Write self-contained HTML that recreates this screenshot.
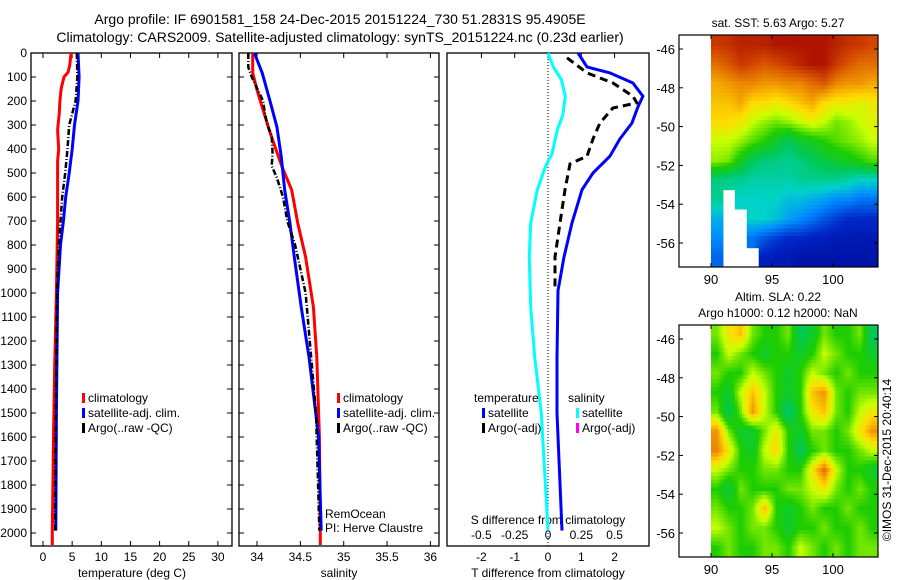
<!DOCTYPE html>
<html><head><meta charset="utf-8"><style>
body{margin:0;background:#fff;}
svg{display:block;font-family:"Liberation Sans",sans-serif;}
</style></head><body>
<svg id="s" width="900" height="580" viewBox="0 0 900 580">
<text x="340" y="24" font-size="14" text-anchor="middle">Argo profile: IF 6901581_158 24-Dec-2015 20151224_730 51.2831S 95.4905E</text>
<text x="340" y="42" font-size="14" text-anchor="middle">Climatology: CARS2009. Satellite-adjusted climatology: synTS_20151224.nc (0.23d earlier)</text>
</svg>
<script>
const depthTicks=[0,100,200,300,400,500,600,700,800,900,1000,1100,1200,1300,1400,1500,1600,1700,1800,1900,2000];
const tTicks=[0,5,10,15,20,25,30];
const sTicks=[34,34.5,35,35.5,36];
const dtTicks=[-2,-1,0,1,2];
const dsTicks=[-0.5,-0.25,0,0.25,0.5];
const dsTickLabels=["-0.5","-0.25","0","0.25","0.5"];
// temperature
const tClimD=[0,50,80,100,130,150,200,250,320,400,450,700,1000,1300,1600,2000,2050];
const tClimV=[4.8,4.6,4.3,3.6,3.3,3.1,2.9,2.8,2.5,2.7,2.5,2.5,2.3,2.0,1.8,1.6,1.6];
const tSatD=[0,100,200,300,400,500,600,700,800,1000,1500,1990];
const tSatV=[6.0,6.2,6.0,5.4,5.0,4.5,3.9,3.5,3.0,2.5,2.3,2.2];
const tArgoD=[0,100,200,300,400,500,600,700,800,1000,1500,1990];
const tArgoV=[5.8,5.9,5.6,4.5,4.2,3.8,3.3,3.0,2.7,2.4,2.2,2.1];
// salinity
const sClimD=[0,83,154,225,308,362,475,571,708,850,1058,1267,1600,2000,2050];
const sClimV=[33.95,33.95,34.0,34.06,34.13,34.18,34.29,34.40,34.47,34.56,34.65,34.69,34.72,34.73,34.73];
const sSatD=[0,83,200,308,433,571,708,850,1058,1267,1600,1990];
const sSatV=[33.97,34.06,34.15,34.23,34.28,34.32,34.38,34.43,34.51,34.60,34.71,34.74];
const sArgoD=[0,60,100,200,250,300,350,420,470,520,600,700,800,900,1000,1500,1990];
const sArgoV=[33.9,33.9,33.94,34.07,34.09,34.12,34.17,34.18,34.17,34.23,34.30,34.35,34.44,34.50,34.56,34.68,34.72];
// differences
const dtSatD=[0,58,83,125,180,225,292,358,430,500,570,708,850,990,1267,1500,1990];
const dtSatV=[0.9,1.17,1.86,2.55,2.85,2.7,2.52,2.16,1.86,1.35,1.02,0.72,0.48,0.3,0.27,0.27,0.42];
const dtArgoD=[20,83,125,180,208,229,292,358,430,462,570,708,850,975];
const dtArgoV=[0.57,1.17,1.95,2.55,2.67,1.95,1.56,1.35,1.17,0.66,0.51,0.36,0.21,0.21];
const dsSatD=[0,58,110,180,260,320,420,475,570,708,850,1058,1267,1500,1990];
const dsSatV=[0,0.04,0.1,0.13,0.11,0.07,0.03,-0.02,-0.08,-0.13,-0.14,-0.13,-0.1,-0.05,0];
// maps
const lonTicks=[90,95,100];
const latTicks=[-46,-48,-50,-52,-54,-56];
const sstGrid=[
[.92,.93,.95,.95,.95,.97,.97,.97,.97,.97,.95,.93,.92,.90],
[.85,.88,.92,.90,.88,.90,.92,.95,.97,.97,.92,.88,.85,.85],
[.78,.80,.82,.82,.80,.80,.82,.82,.85,.88,.82,.80,.80,.78],
[.75,.75,.78,.72,.72,.70,.72,.75,.78,.72,.70,.70,.68,.70],
[.72,.72,.70,.65,.62,.60,.62,.65,.68,.65,.60,.62,.65,.68],
[.65,.65,.62,.58,.55,.50,.45,.50,.52,.55,.58,.60,.62,.65],
[.62,.60,.52,.45,.42,.42,.40,.42,.45,.48,.50,.52,.55,.58],
[.42,.40,.40,.38,.38,.38,.38,.40,.40,.40,.40,.38,.35,.35],
[.40,null,.35,.35,.35,.35,.32,.32,.30,.28,.25,.25,.22,.22],
[.30,null,null,.35,.35,.32,.28,.25,.22,.18,.15,.12,.12,.12],
[.25,null,null,.22,.18,.15,.12,.12,.10,.10,.08,.08,.08,.08],
[.20,null,null,null,.10,.08,.08,.06,.06,.06,.06,.06,.06,.06]];
const slaGrid=[
[.6,.7,.75,.6,.55,.55,.6,.45,.5,.6,.55,.55,.6,.45],
[.55,.65,.6,.55,.5,.55,.55,.5,.55,.65,.6,.55,.55,.5],
[.6,.55,.55,.65,.6,.55,.5,.55,.65,.6,.55,.6,.55,.55],
[.55,.5,.65,.75,.65,.55,.5,.55,.75,.8,.6,.55,.6,.6],
[.6,.45,.6,.8,.65,.55,.42,.55,.7,.75,.6,.55,.65,.7],
[.8,.6,.5,.5,.6,.7,.55,.5,.6,.6,.55,.6,.7,.8],
[.82,.7,.55,.5,.65,.72,.55,.45,.55,.6,.55,.55,.6,.65],
[.65,.6,.55,.55,.6,.6,.55,.55,.7,.85,.65,.55,.55,.5],
[.55,.48,.6,.55,.55,.55,.6,.6,.65,.7,.6,.55,.6,.55],
[.6,.55,.55,.6,.75,.55,.5,.55,.6,.55,.55,.6,.55,.55],
[.65,.6,.55,.6,.6,.55,.5,.55,.55,.6,.55,.55,.6,.55],
[.55,.6,.55,.55,.6,.6,.55,.65,.6,.55,.6,.55,.6,.6]];

const S=document.getElementById('s');const NS='http://www.w3.org/2000/svg';
function mk(t,a,p){const e=document.createElementNS(NS,t);for(const k in a)e.setAttribute(k,a[k]);(p||S).appendChild(e);return e;}
function txt(x,y,s,anchor,size,p){const e=mk('text',{x:x,y:y,'font-size':size||12,'text-anchor':anchor||'middle'},p);e.textContent=s;return e;}
const pTop=53,pBot=546;
const yD=d=>pTop+d*0.24;
const xT=v=>43+v*5.83;
const xS=v=>257+(v-34)*86.7;
const xDT=v=>548+v*33.3;
const xDS=v=>548+v*133.3;
function frame(x0,x1,name,yt){
  const g=mk('g',{});
  
  
  mk('rect',{x:x0,y:pTop,width:x1-x0,height:pBot-pTop,fill:'none',stroke:'#000','stroke-width':1.3},g);
  if(yt){depthTicks.forEach(d=>{const y=yD(d);mk('line',{x1:x0,x2:x0+5,y1:y,y2:y,stroke:'#000'},g);mk('line',{x1:x1-5,x2:x1,y1:y,y2:y,stroke:'#000'},g);});}
  return g;
}
function line(D,V,fx,color,w,dash,name){
  const p=D.map((d,i)=>fx(V[i]).toFixed(1)+','+yD(d).toFixed(1)).join(' ');
  const e=mk('polyline',{points:p,fill:'none',stroke:color,'stroke-width':w});
  if(dash)e.setAttribute('stroke-dasharray',dash);
  
  
}
function named(e,n){
  
  
}
// panel 1
frame(31,232,'temperature-panel',true);
depthTicks.forEach(d=>{const e=txt(27,yD(d)+4,String(d),'end',12);named(e,'depth-tick-label');});
tTicks.forEach(v=>{const x=xT(v);mk('line',{x1:x,x2:x,y1:pBot,y2:pBot-5,stroke:'#000'});mk('line',{x1:x,x2:x,y1:pTop,y2:pTop+5,stroke:'#000'});const e=txt(x,561,String(v));named(e,'temperature-tick-label');});
named(txt(132,577,'temperature (deg C)'),'temperature-axis-title');
line(tClimD,tClimV,xT,'#f00',3,null,'temp-climatology-line');
line(tSatD,tSatV,xT,'#00f',3,null,'temp-satellite-line');
line(tArgoD,tArgoV,xT,'#000',2.5,'6 2 1 2','temp-argo-line');
// panel 2
frame(239,439,'salinity-panel',true);
sTicks.forEach(v=>{const x=xS(v);mk('line',{x1:x,x2:x,y1:pBot,y2:pBot-5,stroke:'#000'});mk('line',{x1:x,x2:x,y1:pTop,y2:pTop+5,stroke:'#000'});const e=txt(x,561,String(v));named(e,'salinity-tick-label');});
named(txt(339,577,'salinity'),'salinity-axis-title');
line(sClimD,sClimV,xS,'#f00',3,null,'sal-climatology-line');
line(sSatD,sSatV,xS,'#00f',3,null,'sal-satellite-line');
line(sArgoD,sArgoV,xS,'#000',2.5,'6 2 1 2','sal-argo-line');
// legends
function legend(x,y,items,name){const g=mk('g',{});
 
 
 items.forEach((it,i)=>{const yy=y+i*15;if(it[0])mk('rect',{x:x,y:yy-9,width:3,height:10,fill:it[0]},g);txt(x+(it[0]?6:-8),yy,it[1],'start',12,g);});}
legend(82,402,[['#f00','climatology'],['#00f','satellite-adj. clim.'],['#000','Argo(..raw -QC)']],'temperature-legend');
legend(337,402,[['#f00','climatology'],['#00f','satellite-adj. clim.'],['#000','Argo(..raw -QC)']],'salinity-legend');
named(txt(325,518,'RemOcean','start'),'project-label');
named(txt(325,532,'PI: Herve Claustre','start'),'pi-label');
// panel 3
frame(447,649,'difference-panel',false);
mk('line',{x1:548,x2:548,y1:pTop,y2:pBot,stroke:'#000','stroke-dasharray':'1 2'});
dtTicks.forEach(v=>{const x=xDT(v);mk('line',{x1:x,x2:x,y1:pTop,y2:pTop+5,stroke:'#000'});const e=txt(x,561,String(v));named(e,'t-diff-tick-label');});
dsTicks.forEach((v,i)=>{const e=txt(xDS(v),539,dsTickLabels[i]);named(e,'s-diff-tick-label');});
named(txt(548,524,'S difference from climatology'),'s-diff-axis-title');
named(txt(548,577,'T difference from climatology'),'t-diff-axis-title');
line(dsSatD,dsSatV,xDS,'#0ff',3,null,'s-diff-satellite-line');
line(dtSatD,dtSatV,xDT,'#00f',3,null,'t-diff-satellite-line');
line(dtArgoD,dtArgoV,xDT,'#000',3,'8 5','t-diff-argo-line');
legend(482,402,[[null,'temperature'],['#00f','satellite'],['#000','Argo(-adj)']],'t-diff-legend');
legend(576,402,[[null,'salinity'],['#0ff','satellite'],['#f0f','Argo(-adj)']],'s-diff-legend');
// maps
const stops=[[0,[0,0,140]],[.12,[0,40,200]],[.25,[0,140,255]],[.35,[0,210,200]],[.45,[0,200,90]],[.55,[30,205,0]],[.65,[200,255,0]],[.72,[255,220,0]],[.8,[240,150,0]],[.9,[210,70,0]],[1,[160,0,0]]];
function cmap(v){for(let i=1;i<stops.length;i++){if(v<=stops[i][0]){const a=stops[i-1],b=stops[i],t=(v-a[0])/(b[0]-a[0]);return 'rgb('+a[1].map((c,k)=>Math.round(c+(b[1][k]-c)*t)).join(',')+')';}}return 'rgb(160,0,0)';}
function sample(grid,r,c){
 const nr=grid.length,nc=grid[0].length;
 const ri=Math.min(nr-1,Math.max(0,Math.round(r))),ci=Math.min(nc-1,Math.max(0,Math.round(c)));
 if(grid[ri][ci]===null)return null;
 const r0=Math.max(0,Math.min(nr-1,Math.floor(r))),c0=Math.max(0,Math.min(nc-1,Math.floor(c)));
 const r1=Math.min(nr-1,r0+1),c1=Math.min(nc-1,c0+1);
 const fr=Math.max(0,Math.min(1,r-r0)),fc=Math.max(0,Math.min(1,c-c0));
 let sw=0,sv=0;
 [[r0,c0,(1-fr)*(1-fc)],[r0,c1,(1-fr)*fc],[r1,c0,fr*(1-fc)],[r1,c1,fr*fc]].forEach(q=>{const v=grid[q[0]][q[1]];if(v!==null){sw+=q[2];sv+=v*q[2];}});
 return sw>0?sv/sw:grid[ri][ci];
}
function drawMap(y0,y1,grid,name){
 const x0=679,x1=878,xs=711,xe=878;
 const lonX=l=>711+(l-90)*12.2;
 const lat46=y0+14,latY=l=>lat46+(-46-l)*19.4;
 const g=mk('g',{});
 
 
 const nr=grid.length,nc=grid[0].length,f=5;
 const ch=(y1-y0)/nr,cw=(xe-xs)/nc;
 for(let i=0;i<nr*f;i++)for(let j=0;j<nc*f;j++){
  const v=sample(grid,(i+0.5)/f-0.5,(j+0.5)/f-0.5);
  if(v===null)continue;
  const cell=mk('rect',{x:(xs+j*cw/f).toFixed(2),y:(y0+i*ch/f).toFixed(2),width:(cw/f+0.5).toFixed(2),height:(ch/f+0.5).toFixed(2),fill:cmap(v)},g);
  
  
 }
 mk('rect',{x:x0,y:y0,width:x1-x0,height:y1-y0,fill:'none',stroke:'#000','stroke-width':1.2},g);
 lonTicks.forEach(l=>{const x=lonX(l);mk('line',{x1:x,x2:x,y1:y1,y2:y1-4,stroke:'#000'},g);mk('line',{x1:x,x2:x,y1:y0,y2:y0+4,stroke:'#000'},g);txt(x,y1+17,String(l),'middle',13,g);});
 latTicks.forEach(l=>{const y=latY(l);mk('line',{x1:x0,x2:x0+4,y1:y,y2:y,stroke:'#000'},g);mk('line',{x1:x1-4,x2:x1,y1:y,y2:y,stroke:'#000'},g);txt(675,y+5,String(l),'end',13,g);});
}
drawMap(35,267,sstGrid,'sst-map');
drawMap(325,557,slaGrid,'sla-map');
named(txt(778,27,'sat. SST: 5.63 Argo: 5.27','middle',12),'sst-map-title');
named(txt(778,301,'Altim. SLA: 0.22','middle',12),'sla-map-title');
named(txt(778,317,'Argo h1000: 0.12 h2000: NaN','middle',12),'sla-map-subtitle');
const c=txt(0,0,'©IMOS 31-Dec-2015 20:40:14','middle',12);
c.setAttribute('transform','translate(891,460) rotate(-90)');


</script>
</body></html>
